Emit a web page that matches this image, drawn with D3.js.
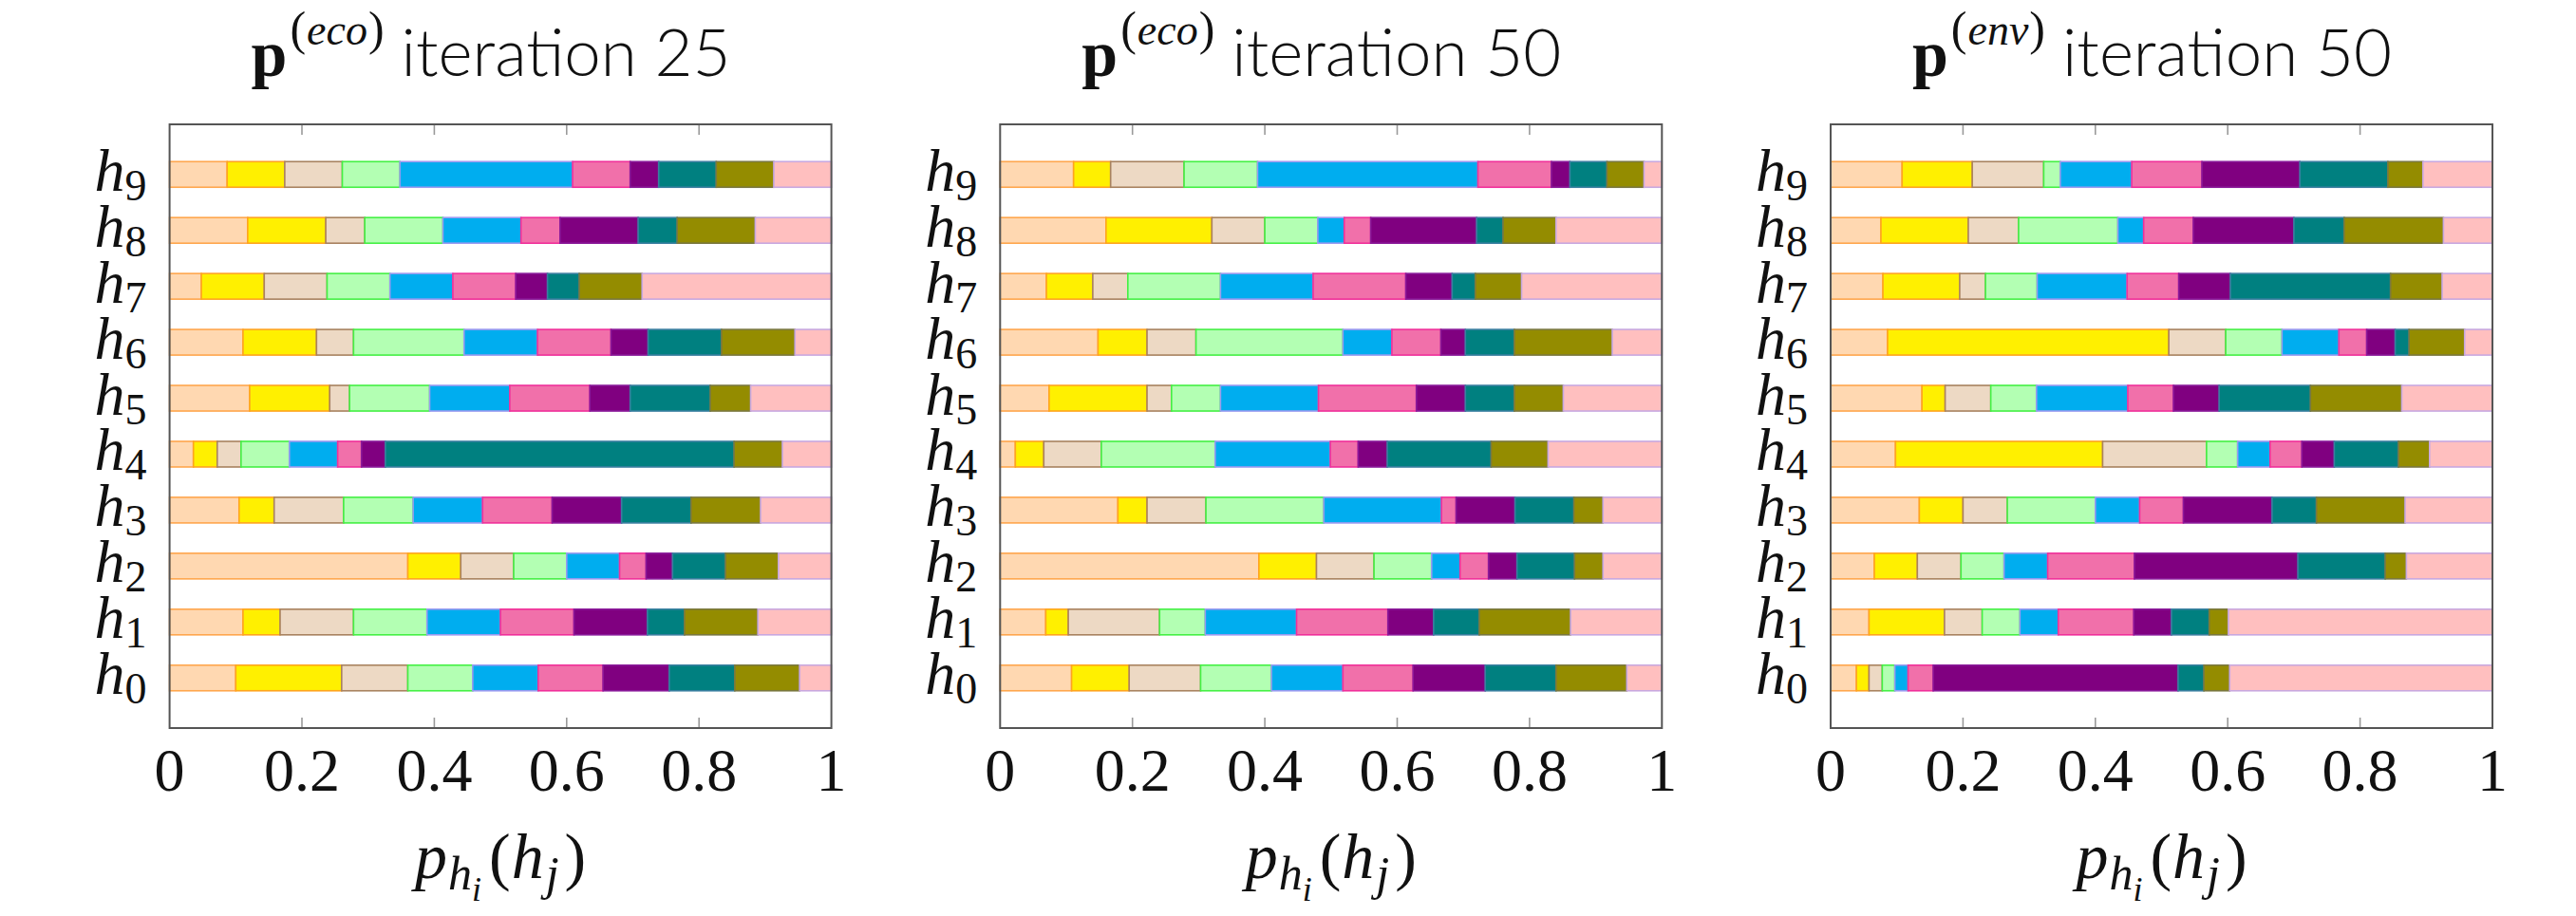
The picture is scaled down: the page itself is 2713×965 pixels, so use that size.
<!DOCTYPE html>
<html>
<head>
<meta charset="utf-8">
<script src="https://cdn.jsdelivr.net/npm/d3@7"></script>
<style>
  html, body { margin: 0; padding: 0; background: #fff; }
  svg { display: block; }
</style>
</head>
<body>
<svg id="chart" width="2713" height="965"></svg>
<script>
// rows h0..h9, each row = p_{h_i}(h_j) for j = 0..9
const states = ["0", "1", "2", "3", "4", "5", "6", "7", "8", "9"];

const ecoIter25 = [
    [0.100, 0.160, 0.100, 0.098, 0.099, 0.098, 0.100, 0.099, 0.098, 0.048],
    [0.111, 0.056, 0.111, 0.111, 0.111, 0.111, 0.111, 0.056, 0.111, 0.111],
    [0.360, 0.080, 0.080, 0.080, 0.080, 0.040, 0.040, 0.080, 0.080, 0.080],
    [0.105, 0.053, 0.105, 0.105, 0.105, 0.105, 0.105, 0.105, 0.105, 0.107],
    [0.036, 0.036, 0.036, 0.073, 0.073, 0.036, 0.036, 0.527, 0.073, 0.074],
    [0.121, 0.121, 0.030, 0.121, 0.121, 0.121, 0.061, 0.121, 0.061, 0.122],
    [0.111, 0.111, 0.056, 0.167, 0.111, 0.111, 0.056, 0.111, 0.111, 0.055],
    [0.048, 0.095, 0.095, 0.095, 0.095, 0.095, 0.048, 0.048, 0.095, 0.286],
    [0.118, 0.118, 0.059, 0.118, 0.118, 0.059, 0.118, 0.059, 0.118, 0.115],
    [0.087, 0.087, 0.087, 0.087, 0.261, 0.087, 0.043, 0.087, 0.087, 0.087]
];

const ecoIter50 = [
    [0.108, 0.087, 0.108, 0.107, 0.108, 0.106, 0.109, 0.107, 0.107, 0.053],
    [0.069, 0.034, 0.138, 0.069, 0.138, 0.138, 0.069, 0.069, 0.138, 0.138],
    [0.391, 0.087, 0.087, 0.087, 0.043, 0.043, 0.043, 0.087, 0.043, 0.089],
    [0.178, 0.044, 0.089, 0.178, 0.178, 0.022, 0.089, 0.089, 0.044, 0.089],
    [0.023, 0.043, 0.087, 0.172, 0.174, 0.042, 0.044, 0.157, 0.086, 0.172],
    [0.074, 0.148, 0.037, 0.074, 0.148, 0.148, 0.074, 0.074, 0.074, 0.149],
    [0.148, 0.074, 0.074, 0.222, 0.074, 0.074, 0.037, 0.074, 0.148, 0.075],
    [0.070, 0.070, 0.053, 0.140, 0.140, 0.140, 0.070, 0.035, 0.070, 0.212],
    [0.160, 0.160, 0.080, 0.080, 0.040, 0.040, 0.160, 0.040, 0.080, 0.160],
    [0.111, 0.056, 0.111, 0.111, 0.333, 0.111, 0.028, 0.056, 0.056, 0.027]
];

const envIter50 = [
    [0.039, 0.019, 0.020, 0.019, 0.020, 0.038, 0.370, 0.039, 0.039, 0.397],
    [0.058, 0.114, 0.057, 0.057, 0.058, 0.114, 0.057, 0.057, 0.029, 0.399],
    [0.066, 0.065, 0.066, 0.065, 0.066, 0.131, 0.247, 0.132, 0.032, 0.130],
    [0.134, 0.066, 0.067, 0.133, 0.067, 0.066, 0.134, 0.067, 0.134, 0.132],
    [0.098, 0.313, 0.157, 0.047, 0.049, 0.048, 0.049, 0.097, 0.047, 0.095],
    [0.138, 0.035, 0.069, 0.069, 0.138, 0.069, 0.069, 0.138, 0.138, 0.137],
    [0.086, 0.425, 0.086, 0.085, 0.086, 0.042, 0.043, 0.021, 0.084, 0.042],
    [0.079, 0.116, 0.039, 0.078, 0.136, 0.078, 0.078, 0.242, 0.078, 0.076],
    [0.076, 0.132, 0.076, 0.150, 0.039, 0.075, 0.152, 0.076, 0.150, 0.074],
    [0.108, 0.106, 0.108, 0.025, 0.108, 0.106, 0.148, 0.133, 0.053, 0.105]
];

const panelSeries = ["eco", "eco", "env"];
const panelIterations = [25, 50, 50];
const xTicks = [0, 0.2, 0.4, 0.6, 0.8, 1];
const xTickLabels = ["0", "0.2", "0.4", "0.6", "0.8", "1"];

const fills = ["#ffd8b1", "#fff000", "#edd9c4", "#b3ffb3", "#00adef",
               "#f170aa", "#800080", "#008080", "#948c00", "#ffbfbf"];
const strokes = ["#ffa64d", "#ffa41f", "#a8825f", "#44f044", "#9a9af0",
                 "#f0309a", "#8a1a9a", "#3a7fa0", "#7a7840", "#c8a8e0"];

const SERIF = "'Liberation Serif', 'DejaVu Serif', serif";
const SANS = "Lato, 'Open Sans', sans-serif";
const layout = {left: 178.6, step: 874.7, width: 697, top: 131, bottom: 767, barHeight: 27};

const svg = d3.select("#chart");
[ecoIter25, ecoIter50, envIter50].forEach((rows, i) => renderPanel(rows, i));

function renderPanel(rows, idx) {
    const x0 = layout.left + idx * layout.step;
    const g = svg.append("g").attr("transform", `translate(${x0},0)`);

    const x = d3.scaleLinear().domain([0, 1]).range([0, layout.width]);
    const y = d3.scaleLinear().domain([-0.895, 9.895]).range([layout.bottom, layout.top]);

    const keys = d3.range(10);
    const table = rows.map((r, i) => Object.assign({state: states[i]}, r));
    const stacked = d3.stack().keys(keys)(table);

    g.selectAll("g.segment")
        .data(stacked)
        .join("g")
        .attr("class", "segment")
        .attr("fill", (d, k) => fills[k])
        .attr("stroke", (d, k) => strokes[k])
        .attr("stroke-width", 1.6)
        .selectAll("rect")
        .data(d => d)
        .join("rect")
        .attr("x", d => x(d[0]))
        .attr("width", d => Math.max(0, x(d[1]) - x(d[0])))
        .attr("y", (d, i) => y(i) - layout.barHeight / 2)
        .attr("height", layout.barHeight);

    renderFrame(g, x);
    renderYLabels(g, y);
    renderXLabels(g, x);
    renderTitle(g, idx);
}

function renderFrame(g, x) {
    const ticks = xTicks.filter(t => t > 0 && t < 1);
    g.selectAll("line.tick-b")
        .data(ticks).join("line")
        .attr("x1", d => x(d)).attr("x2", d => x(d))
        .attr("y1", layout.bottom).attr("y2", layout.bottom - 11)
        .attr("stroke", "#9a9a9a").attr("stroke-width", 1.6);
    g.selectAll("line.tick-t")
        .data(ticks).join("line")
        .attr("x1", d => x(d)).attr("x2", d => x(d))
        .attr("y1", layout.top).attr("y2", layout.top + 11)
        .attr("stroke", "#9a9a9a").attr("stroke-width", 1.6);
    g.append("rect")
        .attr("x", 0).attr("y", layout.top)
        .attr("width", layout.width).attr("height", layout.bottom - layout.top)
        .attr("fill", "none").attr("stroke", "#555").attr("stroke-width", 2);
}

function renderYLabels(g, y) {
    const t = g.selectAll("text.ylab")
        .data(states).join("text")
        .attr("class", "ylab")
        .attr("x", -24)
        .attr("y", (d, i) => y(i) + 17)
        .attr("text-anchor", "end")
        .style("font-family", SERIF)
        .attr("fill", "#111");
    t.append("tspan").attr("font-style", "italic").attr("font-size", 64).text("h");
    t.append("tspan").attr("font-size", 46).attr("dy", 10).text(d => d);
}

// lay out a row of text pieces centred on cx, measuring each piece
function pieceRow(g, pieces, cx, baseline) {
    const nodes = pieces.map(p => g.append("text")
        .attr("y", baseline + (p.dy || 0))
        .attr("fill", "#111")
        .style("font-family", p.family || SERIF)
        .style("font-style", p.italic ? "italic" : "normal")
        .style("font-weight", p.weight || "normal")
        .style("font-size", p.size + "px")
        .text(p.text));
    const widths = nodes.map(n => n.node().getComputedTextLength());
    const total = d3.sum(widths) + d3.sum(pieces, p => p.gap || 0);
    let cur = cx - total / 2;
    nodes.forEach((n, i) => {
        cur += pieces[i].gap || 0;
        n.attr("x", cur);
        cur += widths[i];
    });
}

function renderXLabels(g, x) {
    g.selectAll("text.xtick")
        .data(xTicks).join("text")
        .attr("class", "xtick")
        .attr("x", d => x(d))
        .attr("y", layout.bottom + 66)
        .attr("text-anchor", "middle")
        .style("font-family", SERIF)
        .attr("font-size", 64)
        .attr("fill", "#111")
        .text((d, i) => xTickLabels[i]);

    pieceRow(g, [
        {text: "p", size: 68, italic: true},
        {text: "h", size: 50, italic: true, dy: 12, gap: 1},
        {text: "i", size: 36, italic: true, dy: 24, gap: 0},
        {text: "(", size: 68, gap: 8},
        {text: "h", size: 68, italic: true, gap: 1},
        {text: "j", size: 50, italic: true, dy: 12, gap: 2},
        {text: ")", size: 68, gap: 6}
    ], layout.width / 2, 925);
}

function renderTitle(g, idx) {
    pieceRow(g, [
        {text: "p", size: 68, weight: "bold"},
        {text: "(", size: 50, dy: -33, gap: 3},
        {text: panelSeries[idx], size: 46, italic: true, dy: -33, gap: 1},
        {text: ")", size: 50, dy: -33, gap: 1},
        {text: "iteration " + panelIterations[idx], size: 69, family: SANS, weight: 300, gap: 18}
    ], layout.width / 2 - 10, 80);
}
</script>
</body>
</html>
